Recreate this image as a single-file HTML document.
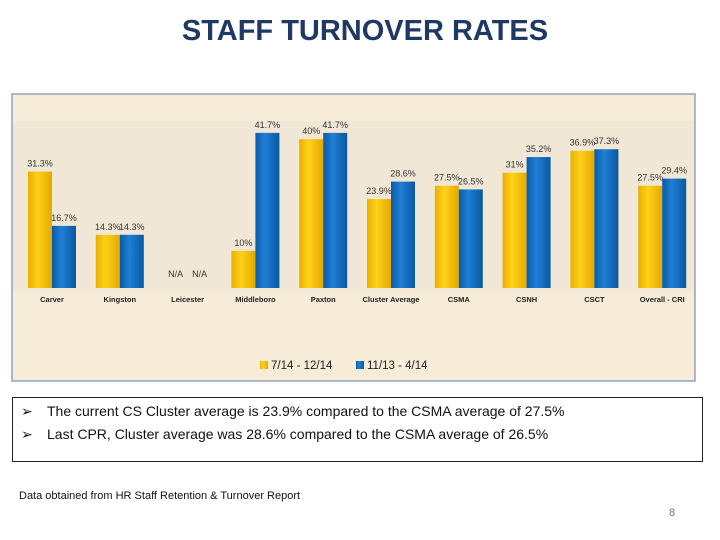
<!DOCTYPE html>
<html><head><meta charset="utf-8"><style>
body{margin:0;width:720px;height:540px;background:#fff;font-family:"Liberation Sans",sans-serif;position:relative;overflow:hidden}
#title{position:absolute;left:0;width:730px;top:15px;text-align:center;font-size:29px;font-weight:bold;color:#1f3864}
#notes{position:absolute;left:12px;top:397px;width:691px;height:65px;border:1px solid #222;box-sizing:border-box;font-size:14px;color:#111}
#notes div{position:absolute;left:8px;white-space:nowrap}
#notes span{display:inline-block;width:26px}
#src{position:absolute;left:19px;top:490px;font-size:11px;color:#111}
#pg{position:absolute;left:669px;top:507px;font-size:11px;color:#777}
</style></head><body>
<div id="title">STAFF TURNOVER RATES</div>
<svg id="chart" width="720" height="390" style="position:absolute;left:0;top:0">
<defs>
<linearGradient id="gy" x1="0" x2="1"><stop offset="0" stop-color="#e8b000"/><stop offset="0.4" stop-color="#ffd11a"/><stop offset="1" stop-color="#e3a800"/></linearGradient>
<linearGradient id="gb" x1="0" x2="1"><stop offset="0" stop-color="#0a5aa8"/><stop offset="0.4" stop-color="#1f7fd6"/><stop offset="1" stop-color="#0a58a0"/></linearGradient>
</defs>
<rect x="12" y="94" width="683" height="287" fill="#f6ecd8" stroke="#8fa3bd" stroke-width="1.5"/>
<rect x="13" y="121" width="681" height="170" fill="#efe6d6" opacity="0.7"/>
<g id="bars"></g>
<g>
<rect x="260" y="361" width="8" height="8" fill="url(#gy)"/>
<text x="271" y="369" font-size="11.5" fill="#222">7/14 - 12/14</text>
<rect x="356" y="361" width="8" height="8" fill="url(#gb)"/>
<text x="367" y="369" font-size="11.5" fill="#222">11/13 - 4/14</text>
</g>
</svg>
<div id="notes">
<div style="top:5px"><span>➢</span>The current CS Cluster average is 23.9% compared to the CSMA average of 27.5%</div>
<div style="top:28px"><span>➢</span>Last CPR, Cluster average was 28.6% compared to the CSMA average of 26.5%</div>
</div>
<div id="src">Data obtained from HR Staff Retention &amp; Turnover Report</div>
<div id="pg">8</div>
<script>
const categories=["Carver","Kingston","Leicester","Middleboro","Paxton","Cluster Average","CSMA","CSNH","CSCT","Overall - CRI"];
const seriesA=[31.3,14.3,null,10,40,23.9,27.5,31,36.9,27.5];
const seriesB=[16.7,14.3,null,41.7,41.7,28.6,26.5,35.2,37.3,29.4];
const labelsA=["31.3%","14.3%","N/A","10%","40%","23.9%","27.5%","31%","36.9%","27.5%"];
const labelsB=["16.7%","14.3%","N/A","41.7%","41.7%","28.6%","26.5%","35.2%","37.3%","29.4%"];
const base=288, pxPer=3.72, x0=52, step=67.8, bw=24;
const y=v=>base-v*pxPer;
const xc=i=>x0+i*step;
const g=document.getElementById('bars');
const NS='http://www.w3.org/2000/svg';
function mk(t,a){const e=document.createElementNS(NS,t);for(const k in a)e.setAttribute(k,a[k]);g.appendChild(e);return e;}
categories.forEach((c,i)=>{
  [[seriesA,labelsA,'url(#gy)',-bw,'a'],[seriesB,labelsB,'url(#gb)',0,'b']].forEach(([s,l,f,off,k])=>{
    const v=s[i];const bx=xc(i)+off;
    if(v!=null){
      const r=mk('rect',{x:bx,y:y(v),width:bw,height:base-y(v),fill:f});
      
      
    }
    const t=mk('text',{x:bx+bw/2,y:(v!=null?y(v):base-6)-5,'font-size':9,fill:'#333','text-anchor':'middle'});
    t.textContent=l[i];
    
    
  });
  const t=mk('text',{x:xc(i),y:302,'font-size':7.5,'font-weight':'bold',fill:'#222','text-anchor':'middle'});
  t.textContent=c;
  
  
});
</script>
</body></html>
